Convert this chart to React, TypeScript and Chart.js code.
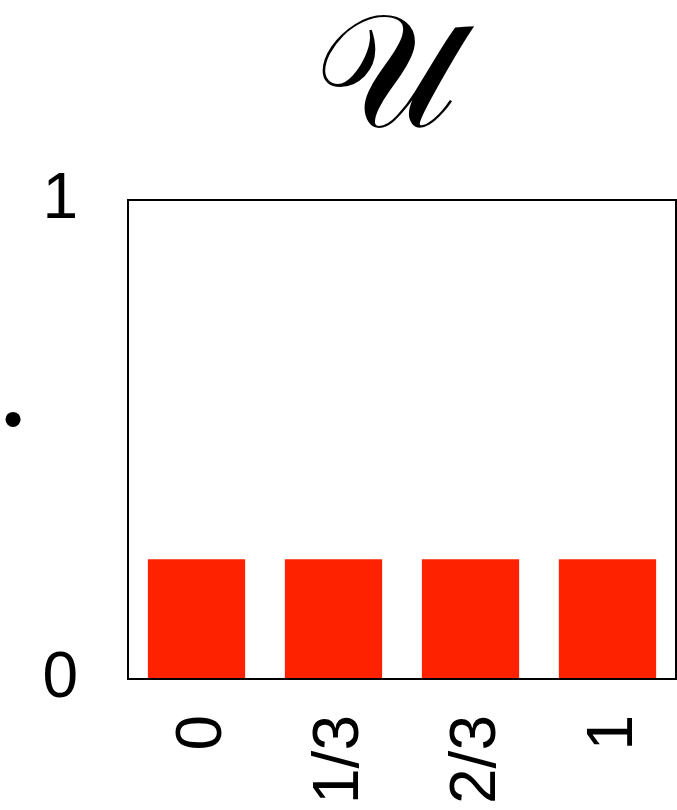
import React, { useEffect, useRef } from "react";
import { Chart, registerables } from "chart.js";

Chart.register(...registerables);

// Outcome values on the x axis and their probabilities
const categories = ["0", "1/3", "2/3", "1"];
const probabilities = [0.25, 0.25, 0.25, 0.25];
const yTickValues = [0, 1];
const titleText = "\u{1D4B0}\u2009";
const yAxisMark = "\u2022";

const FONT = "'Liberation Sans', Arial, Helvetica, sans-serif";
const BAR_COLOR = "rgb(255, 34, 0)";

// Frame around the plot area plus the small mark left of the y axis
const framePlugin = {
  id: "frameAndMark",
  afterDraw(chart: any) {
    const { ctx, chartArea } = chart;
    const { left, top, right, bottom } = chartArea;
    ctx.save();
    ctx.strokeStyle = "#000";
    ctx.lineWidth = 2;
    ctx.strokeRect(left, top, right - left, bottom - top);
    ctx.fillStyle = "#000";
    ctx.font = `56px ${FONT}`;
    ctx.textAlign = "center";
    ctx.textBaseline = "middle";
    ctx.fillText(yAxisMark, 13, top + (bottom - top) * 0.465);
    ctx.restore();
  },
};

export default function App() {
  const ref = useRef<HTMLCanvasElement>(null);

  useEffect(() => {
    if (!ref.current) return;
    const chart = new Chart(ref.current, {
      type: "bar",
      data: {
        labels: categories,
        datasets: [
          {
            data: probabilities,
            backgroundColor: BAR_COLOR,
            borderWidth: 0,
            categoryPercentage: 1,
            barPercentage: 0.71,
          },
        ],
      },
      options: {
        animation: false,
        responsive: false,
        maintainAspectRatio: false,
        layout: { padding: { left: 0, right: 1, top: 0, bottom: 0 } },
        plugins: {
          legend: { display: false },
          tooltip: { enabled: false },
          title: {
            display: true,
            text: titleText,
            fullSize: false,
            color: "#000",
            font: { family: "'DejaVu Serif', 'DejaVu Sans', serif", size: 160, lineHeight: 1, weight: "normal" },
            padding: { top: 4, bottom: 36 },
          },
        },
        scales: {
          x: {
            grid: { display: false, drawTicks: false },
            border: { display: false },
            ticks: {
              color: "#000",
              font: { family: FONT, size: 64 },
              minRotation: 90,
              maxRotation: 90,
              padding: 36,
              labelOffset: 7,
            },
            afterFit(scale: any) {
              scale.height = 131;
              scale.paddingLeft = 0;
              scale.paddingRight = 0;
            },
          },
          y: {
            min: 0,
            max: 1,
            afterBuildTicks(scale: any) {
              scale.ticks = yTickValues.map((v) => ({ value: v }));
            },
            grid: { display: false, drawTicks: false },
            border: { display: false },
            ticks: {
              color: "#000",
              font: { family: FONT, size: 64 },
              padding: 50,
            },
            afterFit(scale: any) {
              scale.width = 128;
              scale.paddingTop = 0;
              scale.paddingBottom = 0;
            },
          },
        },
      },
      plugins: [framePlugin],
    });
    return () => chart.destroy();
  }, []);

  return (
    <div style={{ position: "fixed", left: 0, top: 0, width: 677, height: 810, background: "#fff" }}>
      <canvas ref={ref} width={677} height={810} />
    </div>
  );
}
